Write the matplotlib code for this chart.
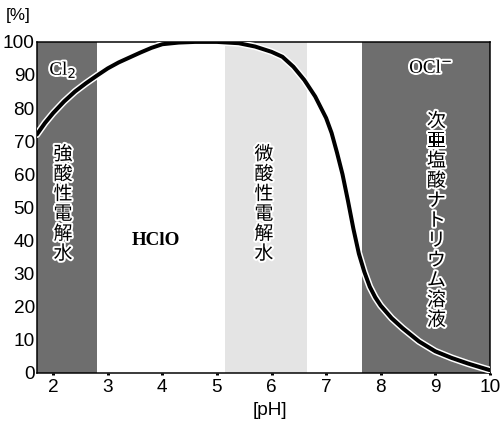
import numpy as np
import matplotlib
matplotlib.use("Agg")
from matplotlib import pyplot as plt
import matplotlib.patheffects as pe

## HClO fraction vs pH
ph = [1.7, 1.85, 2.0, 2.2, 2.4, 2.6, 2.8, 3.0, 3.2, 3.4, 3.6, 3.8, 4.0, 4.3,
      4.6, 5.0, 5.4, 5.7, 6.0, 6.2, 6.4, 6.6, 6.8, 7.0, 7.1, 7.2, 7.3, 7.4,
      7.5, 7.6, 7.7, 7.8, 7.9, 8.0, 8.2, 8.4, 8.7, 9.0, 9.3, 9.6, 10.0]
hclo = [72, 75.5, 78.5, 82, 85, 87.5, 89.8, 92, 93.8, 95.3, 96.8, 98.2, 99.3, 99.8,
        100, 100, 99.6, 98.6, 97, 95.5, 92.5, 88.5, 83.5, 77, 72.5, 66.5, 60, 52,
        43.5, 36, 30.5, 26, 22.8, 20.3, 16.5, 13.5, 9.5, 6.5, 4.5, 2.8, 0.8]

## shaded pH ranges: (start, end)
band_strong = (1.7, 2.8)
band_weak = (5.15, 6.65)
band_naocl = (7.65, 10.0)

xticks = [2, 3, 4, 5, 6, 7, 8, 9, 10]
yticks = list(range(0, 101, 10))

lbl_strong = "強酸性電解水"
lbl_weak = "微酸性電解水"
lbl_naocl = "次亜塩酸ナトリウム溶液"

jp = ['Noto Sans CJK JP', 'DejaVu Sans']
halo = [pe.withStroke(linewidth=4, foreground='white')]

fig = plt.figure(figsize=(7, 6), dpi=72)
ax = fig.add_axes([0.073, 0.137, 0.899, 0.766])

ax.axvspan(*band_strong, color='#6e6e6e', lw=0, zorder=0)
ax.axvspan(*band_weak, color='#e4e4e4', lw=0, zorder=0)
ax.axvspan(*band_naocl, color='#6e6e6e', lw=0, zorder=0)

ax.plot(ph, hclo, color='black', lw=4, solid_capstyle='round',
        solid_joinstyle='round', zorder=3,
        path_effects=[pe.Stroke(linewidth=7, foreground='white'), pe.Normal()])

ax.text(2.18, 91.5, "Cl$_2$", ha='center', va='center', fontsize=19,
        family=['Liberation Serif'], path_effects=halo, zorder=4)
ax.text(2.18, 51, "\n".join(lbl_strong), ha='center', va='center', fontsize=19,
        family=jp, linespacing=0.93, path_effects=halo, zorder=4)
ax.text(3.88, 40, "HClO", ha='center', va='center', fontsize=19,
        family=['Liberation Serif'], fontweight='bold', zorder=4)
ax.text(5.86, 51, "\n".join(lbl_weak), ha='center', va='center', fontsize=19,
        family=jp, linespacing=0.93, path_effects=halo, zorder=4)
ax.text(8.92, 92, "OCl$^{-}$", ha='center', va='center', fontsize=19,
        family=['Liberation Serif'], path_effects=halo, zorder=4)
ax.text(9.02, 46, "\n".join(lbl_naocl), ha='center', va='center', fontsize=19,
        family=jp, linespacing=0.93, path_effects=halo, zorder=4)

ax.set_xlim(1.7, 10.0)
ax.set_ylim(0, 100)
ax.set_xticks(xticks)
ax.set_yticks(yticks)
ax.tick_params(axis='y', length=0, pad=2, labelsize=19)
ax.tick_params(axis='x', length=2, width=3, direction='out', pad=4, labelsize=19)
for lab in ax.get_xticklabels() + ax.get_yticklabels():
    lab.set_family('Liberation Sans')
for sp in ax.spines.values():
    sp.set_linewidth(1.5)

fig.text(0.036, 0.965, "[%]", ha='center', va='center', fontsize=17,
         family='Liberation Sans')
fig.text(0.535, 0.05, "[pH]", ha='center', va='center', fontsize=19,
         family='Liberation Sans')

fig.savefig("out.png", dpi=72)
